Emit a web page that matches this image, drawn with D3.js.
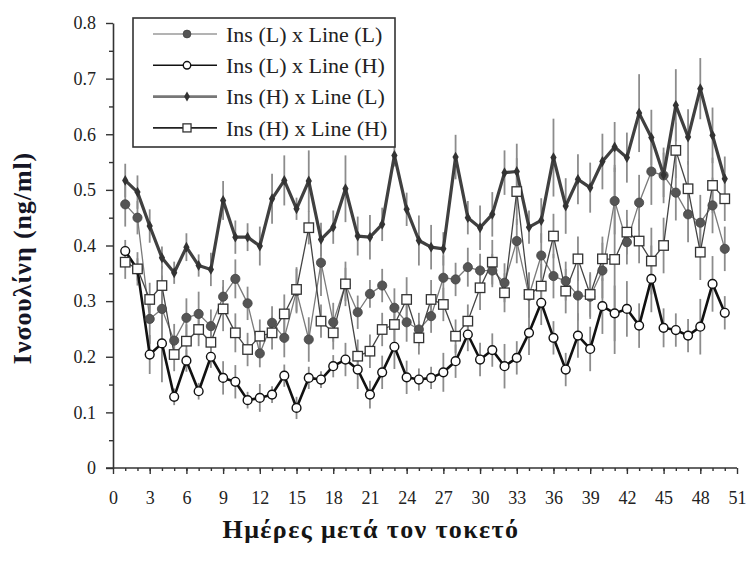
<!DOCTYPE html>
<html>
<head>
<meta charset="utf-8">
<script src="https://cdn.jsdelivr.net/npm/d3@7/dist/d3.min.js"></script>
<style>
  body { margin: 0; background: #fff; }
</style>
</head>
<body>
<div id="viz"></div>
<script>
const days = [1, 2, 3, 4, 5, 6, 7, 8, 9, 10, 11, 12, 13, 14, 15, 16, 17, 18, 19, 20,
  21, 22, 23, 24, 25, 26, 27, 28, 29, 30, 31, 32, 33, 34, 35, 36, 37, 38, 39, 40,
  41, 42, 43, 44, 45, 46, 47, 48, 49, 50];

const xTicks = [0, 3, 6, 9, 12, 15, 18, 21, 24, 27, 30, 33, 36, 39, 42, 45, 48, 51];
const yTicks = [0, 0.1, 0.2, 0.3, 0.4, 0.5, 0.6, 0.7, 0.8];

const seriesNames = ['Ins (L) x Line (L)', 'Ins (L) x Line (H)', 'Ins (H) x Line (L)', 'Ins (H) x Line (H)'];

// mean insulin per day
const insLlineL = [0.474, 0.450, 0.268, 0.286, 0.229, 0.270, 0.277, 0.255, 0.308, 0.340,
  0.296, 0.206, 0.261, 0.234, 0.318, 0.231, 0.369, 0.262, 0.330, 0.280,
  0.313, 0.328, 0.288, 0.262, 0.249, 0.273, 0.342, 0.339, 0.361, 0.355,
  0.355, 0.333, 0.408, 0.310, 0.382, 0.345, 0.336, 0.310, 0.308, 0.355,
  0.480, 0.406, 0.477, 0.533, 0.526, 0.495, 0.456, 0.441, 0.472, 0.394];
const insLlineH = [0.390, 0.357, 0.204, 0.224, 0.128, 0.193, 0.138, 0.200, 0.162, 0.155,
  0.122, 0.126, 0.132, 0.166, 0.108, 0.162, 0.159, 0.183, 0.195, 0.177,
  0.132, 0.172, 0.218, 0.163, 0.159, 0.162, 0.172, 0.192, 0.240, 0.195,
  0.212, 0.183, 0.198, 0.243, 0.297, 0.234, 0.177, 0.238, 0.214, 0.291,
  0.278, 0.286, 0.256, 0.340, 0.252, 0.248, 0.238, 0.254, 0.331, 0.279];
const insHlineL = [0.517, 0.496, 0.435, 0.378, 0.351, 0.397, 0.364, 0.357, 0.481, 0.415,
  0.415, 0.399, 0.484, 0.517, 0.466, 0.516, 0.411, 0.433, 0.502, 0.417,
  0.415, 0.438, 0.562, 0.465, 0.409, 0.397, 0.394, 0.559, 0.450, 0.432,
  0.456, 0.531, 0.533, 0.433, 0.445, 0.558, 0.471, 0.519, 0.504, 0.551,
  0.577, 0.558, 0.638, 0.594, 0.527, 0.652, 0.595, 0.682, 0.598, 0.520];
const insHlineH = [0.370, 0.358, 0.303, 0.328, 0.204, 0.228, 0.249, 0.226, 0.286, 0.243,
  0.213, 0.237, 0.243, 0.277, 0.321, 0.432, 0.264, 0.243, 0.331, 0.201,
  0.210, 0.249, 0.258, 0.303, 0.234, 0.303, 0.294, 0.237, 0.264, 0.324,
  0.370, 0.315, 0.497, 0.312, 0.327, 0.417, 0.318, 0.376, 0.312, 0.376,
  0.375, 0.424, 0.408, 0.372, 0.400, 0.571, 0.502, 0.388, 0.508, 0.484];

// standard error per day
const errLL = [0.04, 0.03, 0.045, 0.06, 0.03, 0.035, 0.04, 0.03, 0.03, 0.035,
  0.03, 0.025, 0.03, 0.035, 0.04, 0.04, 0.06, 0.035, 0.03, 0.03,
  0.025, 0.03, 0.035, 0.035, 0.03, 0.03, 0.04, 0.03, 0.035, 0.03,
  0.03, 0.035, 0.04, 0.04, 0.04, 0.04, 0.035, 0.045, 0.04, 0.05,
  0.06, 0.04, 0.05, 0.06, 0.05, 0.05, 0.05, 0.05, 0.05, 0.04];
const errLH = [0.02, 0.02, 0.035, 0.07, 0.015, 0.02, 0.015, 0.02, 0.03, 0.03,
  0.015, 0.025, 0.015, 0.02, 0.02, 0.02, 0.015, 0.02, 0.03, 0.035,
  0.025, 0.03, 0.04, 0.03, 0.02, 0.02, 0.035, 0.03, 0.03, 0.03,
  0.03, 0.04, 0.03, 0.04, 0.04, 0.03, 0.03, 0.04, 0.04, 0.05,
  0.05, 0.05, 0.04, 0.06, 0.035, 0.03, 0.03, 0.05, 0.05, 0.03];
const errHL = [0.03, 0.03, 0.03, 0.02, 0.02, 0.025, 0.02, 0.03, 0.035, 0.03,
  0.025, 0.035, 0.045, 0.045, 0.02, 0.055, 0.03, 0.03, 0.06, 0.035,
  0.04, 0.03, 0.02, 0.03, 0.045, 0.04, 0.03, 0.04, 0.03, 0.04,
  0.04, 0.04, 0.05, 0.03, 0.04, 0.07, 0.05, 0.045, 0.045, 0.05,
  0.045, 0.045, 0.07, 0.05, 0.04, 0.065, 0.05, 0.055, 0.05, 0.04];
const errHH = [0.03, 0.03, 0.03, 0.035, 0.03, 0.03, 0.03, 0.03, 0.04, 0.035,
  0.03, 0.03, 0.03, 0.035, 0.04, 0.03, 0.03, 0.03, 0.04, 0.03,
  0.03, 0.03, 0.03, 0.04, 0.03, 0.035, 0.03, 0.03, 0.03, 0.04,
  0.04, 0.035, 0.06, 0.04, 0.04, 0.04, 0.04, 0.04, 0.04, 0.04,
  0.17, 0.04, 0.04, 0.06, 0.05, 0.05, 0.05, 0.05, 0.05, 0.04];

const width = 747;
const height = 578;
const margin = {left: 113, right: 10, top: 23, bottom: 110};
const font = '"Liberation Serif", "DejaVu Serif", "Times New Roman", serif';

const svg = d3.select('#viz').append('svg')
  .attr('width', width)
  .attr('height', height)
  .attr('font-family', font);

const x = d3.scaleLinear().domain([0, 51]).range([margin.left, width - margin.right]);
const y = d3.scaleLinear().domain([0, 0.8]).range([height - margin.bottom, margin.top]);

// series styles, in legend order
const series = [
  {name: seriesNames[0], values: insLlineL, err: errLL, line: '#7a7a7a', lw: 1.3, legendLine: '#9a9a9a', marker: 'dot'},
  {name: seriesNames[1], values: insLlineH, err: errLH, line: '#111', lw: 2.6, legendLine: '#111', marker: 'ring'},
  {name: seriesNames[2], values: insHlineL, err: errHL, line: '#404040', lw: 3.2, legendLine: '#777', marker: 'star'},
  {name: seriesNames[3], values: insHlineH, err: errHH, line: '#444', lw: 1.3, legendLine: '#222', marker: 'square'},
];

function drawMarker(g, kind, cx, cy, scale = 1) {
  if (kind === 'dot') {
    g.append('circle').attr('cx', cx).attr('cy', cy).attr('r', 4.6 * scale)
      .attr('fill', '#555').attr('stroke', '#444').attr('stroke-width', 0.8);
  } else if (kind === 'ring') {
    g.append('circle').attr('cx', cx).attr('cy', cy).attr('r', 4.4 * scale)
      .attr('fill', '#fff').attr('stroke', '#111').attr('stroke-width', 1.4);
  } else if (kind === 'star') {
    g.append('path').attr('transform', `translate(${cx},${cy})`)
      .attr('d', d3.symbol().type(d3.symbolDiamond).size(34 * scale)())
      .attr('fill', '#333');
  } else {
    const s = 9.5 * scale;
    g.append('rect').attr('x', cx - s / 2).attr('y', cy - s / 2).attr('width', s).attr('height', s)
      .attr('fill', '#fff').attr('stroke', '#333').attr('stroke-width', 1.3);
  }
}

// axes
const yAxisMinor = d3.axisLeft(y).tickValues(d3.range(0.05, 0.8, 0.1)).tickSize(4).tickFormat('');
const yAxis = d3.axisLeft(y).tickValues(yTicks).tickSize(7).tickPadding(10).tickSizeOuter(0)
  .tickFormat(d => d === 0 ? '0' : d3.format('.1f')(d));
const xAxisMinor = d3.axisBottom(x).tickValues(days).tickSize(3).tickFormat('');
const xAxis = d3.axisBottom(x).tickValues(xTicks).tickSize(6).tickPadding(17).tickSizeOuter(0);

svg.append('g').attr('transform', `translate(${margin.left},0)`).call(yAxisMinor)
  .call(g => g.select('.domain').remove());
svg.append('g').attr('transform', `translate(${margin.left},0)`).call(yAxis);
svg.append('g').attr('transform', `translate(0,${y(0)})`).call(xAxisMinor)
  .call(g => g.select('.domain').remove());
svg.append('g').attr('transform', `translate(0,${y(0)})`).call(xAxis)
  .call(g => g.select('.domain').attr('d', `M${margin.left - 7},0H${x(51)}`));

svg.selectAll('g').attr('font-family', null);
svg.selectAll('.tick line').attr('stroke', '#333').attr('stroke-width', 1.4);
svg.selectAll('.domain').attr('stroke', '#333').attr('stroke-width', 1.6);
svg.selectAll('.tick text').style('font-family', font).style('font-size', '18px').attr('fill', '#222');

// error bars behind everything
const bars = svg.append('g');
series.forEach(s => {
  bars.selectAll(null).data(days).enter().append('line')
    .attr('x1', d => x(d)).attr('x2', d => x(d))
    .attr('y1', (d, i) => y(s.values[i] + s.err[i]))
    .attr('y2', (d, i) => y(s.values[i] - s.err[i]))
    .attr('stroke', '#8c8c8c')
    .attr('stroke-width', 1.8);
});

// lines
const line = d3.line().x((d, i) => x(days[i])).y(d => y(d));
series.forEach(s => {
  svg.append('path')
    .attr('d', line(s.values))
    .attr('fill', 'none')
    .attr('stroke', s.line)
    .attr('stroke-width', s.lw)
    .attr('stroke-linejoin', 'round');
});

// markers
series.forEach(s => {
  const g = svg.append('g');
  s.values.forEach((v, i) => drawMarker(g, s.marker, x(days[i]), y(v)));
});

// legend
const legend = svg.append('g');
legend.append('rect')
  .attr('x', 133).attr('y', 18).attr('width', 262).attr('height', 129)
  .attr('fill', '#fff').attr('stroke', '#333').attr('stroke-width', 1.6);
series.forEach((s, i) => {
  const ly = 34 + i * 31.3;
  legend.append('line').attr('x1', 153).attr('x2', 217).attr('y1', ly).attr('y2', ly)
    .attr('stroke', s.legendLine).attr('stroke-width', i === 2 ? 2.6 : 1.6);
  drawMarker(legend, s.marker, 187, ly, 0.85);
  legend.append('text').attr('x', 226).attr('y', ly).attr('dy', '0.35em')
    .style('font-family', font).style('font-size', '22px').attr('fill', '#222')
    .text(s.name);
});

// axis titles
svg.append('text')
  .attr('x', 371).attr('y', 538)
  .attr('text-anchor', 'middle')
  .style('font-family', font).style('font-size', '26px').style('font-weight', 'bold')
  .style('letter-spacing', '1.4px')
  .attr('fill', '#151515')
  .text('Ημέρες μετά τον τοκετό');

svg.append('text')
  .attr('transform', 'translate(31,258) rotate(-90)')
  .attr('text-anchor', 'middle')
  .style('font-family', font).style('font-size', '26px').style('font-weight', 'bold')
  .style('letter-spacing', '0.9px')
  .attr('fill', '#151525')
  .text('Ινσουλίνη (ng/ml)');
</script>
</body>
</html>
